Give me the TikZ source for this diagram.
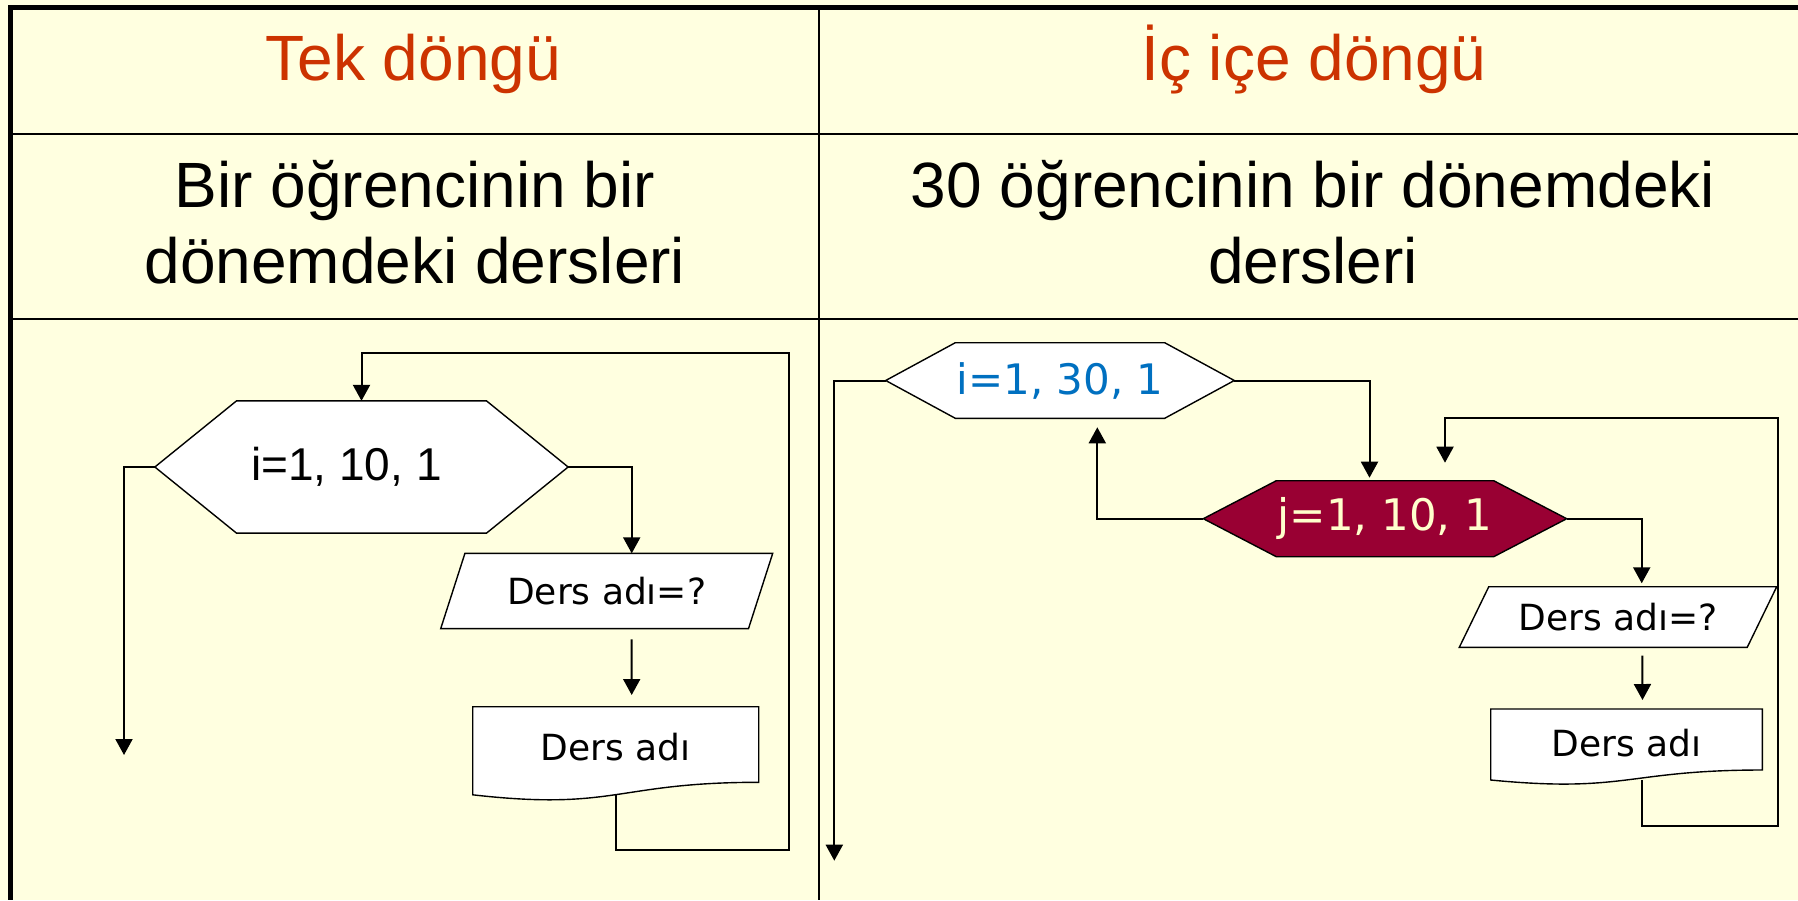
\documentclass[tikz,border=0pt]{standalone}
\usepackage{fontspec}
\setmainfont{DejaVu Sans}
\newfontfamily\arialfont{Liberation Sans}
\usetikzlibrary{shapes.symbols,shapes.geometric,arrows.meta}
\definecolor{paper}{RGB}{255,255,224}
\definecolor{headred}{RGB}{204,51,0}
\definecolor{loopblue}{RGB}{0,112,192}
\definecolor{wine}{RGB}{153,0,51}
\definecolor{cream}{RGB}{255,255,204}

\begin{document}
\begin{tikzpicture}[x=1pt, y=-1pt,
    hexbox/.style={shape=signal, signal to=west and east, draw, fill=white,
      line width=1.4pt, inner sep=0pt, outer sep=0pt},
    inbox/.style={shape=trapezium, trapezium stretches body, draw, fill=white,
      line width=1.4pt, inner sep=0pt, outer sep=0pt,
      font=\fontsize{36}{40}\selectfont},
    docnode/.style={inner sep=0pt, outer sep=0pt, font=\fontsize{36}{40}\selectfont},
    docline/.style={draw, fill=white, line width=1.4pt},
    wire/.style={line width=2pt},
    flow/.style={wire, -{Triangle[length=16pt,width=17pt]}},
    head/.style={anchor=base, font=\arialfont\fontsize{64}{76}\selectfont}]

    \useasboundingbox (0,0) rectangle (1798,900);
    % table
    \fill[paper] (0,0) rectangle (1798,900);
    \draw[wire] (10,134) -- (1798,134) (10,319) -- (1798,319) (819,7.5) -- (819,900);
    \draw[line width=5pt] (1798,7.5) -- (10,7.5) -- (10,900);

    \node[head, text=headred] (tekT) at (413.3,80) {Tek döngü};
    \node[head, text=headred] (iciceT) at (1314,80) {İç içe döngü};
    \node[head] (tekA) at (415,207) {Bir öğrencinin bir};
    \node[head] (tekB) at (415,283) {dönemdeki dersleri};
    \node[head] (iciceA) at (1313,207) {30 öğrencinin bir dönemdeki};
    \node[head] (iciceB) at (1313,283) {dersleri};

    % tek dongu
    \node[hexbox, minimum width=413.3pt, minimum height=132.3pt, signal pointer angle=78,
      font=\arialfont\fontsize{46}{46}\selectfont] (forI) at (361.5,467) {i=1, 10, 1\hspace*{30pt}};
    \node[inbox, trapezium left angle=49, trapezium right angle=131,
      minimum width=332pt, minimum height=75.3pt] (readL) at (606.7,591) {Ders adı=?};
    \path[docline] (472.7,706.7) -- (758.7,706.7) -- (758.7,782.3)
      .. controls (615.7,782.3) and (615.7,811.1) .. (472.7,794.8) -- cycle;
    \node[docnode, minimum width=286pt, minimum height=95.4pt] (writeL) at (615.7,747) {Ders adı};

    \coordinate (loopLa) at (788.7,850);
    \coordinate (loopLb) at (788.7,352.7);
    \coordinate (endL) at (124,755);
    \draw[flow] (forI.east) -| ([xshift=25pt]readL.north);
    \draw[flow, shorten <=10.6pt, shorten >=4.3pt] ([xshift=25pt]readL.south) -- ([xshift=16pt]writeL.north);
    \draw[flow] (writeL.south) |- (loopLa) -- (loopLb) -| (forI.north);
    \draw[flow] (forI.west) -| (endL);

    % ic ice dongu
    \node[hexbox, minimum width=348.6pt, minimum height=75.6pt, signal pointer angle=57,
      text=loopblue, font=\fontsize{42}{42}\selectfont] (forO) at (1060,380.5) {i=1, 30, 1};
    \node[hexbox, fill=wine, minimum width=363.4pt, minimum height=76pt, signal pointer angle=55,
      text=cream, font=\fontsize{43.5}{44}\selectfont] (forJ) at (1385,518.7) {j=1, 10, 1};
    \node[inbox, trapezium left angle=43.4, trapezium right angle=136.6,
      minimum width=317.4pt, minimum height=60.6pt] (readR) at (1618,617) {Ders adı=?};
    \path[docline] (1490.7,709) -- (1762.3,709) -- (1762.3,770)
      .. controls (1626.5,770) and (1626.5,793.2) .. (1490.7,780) -- cycle;
    \node[docnode, minimum width=271.6pt, minimum height=74pt] (writeR) at (1626.5,743) {Ders adı};

    \coordinate (loopRa) at (1777.7,825.7);
    \coordinate (loopRb) at (1777.7,417.7);
    \coordinate (endR) at (834.3,860.7);
    \draw[flow, shorten >=3pt] (forO.east) -| ([xshift=-15.5pt]forJ.north);
    \draw[flow, shorten >=9pt] (forJ.west) -| ([xshift=37.3pt]forO.south);
    \draw[flow, shorten >=3.4pt] (forJ.east) -| ([xshift=23.7pt]readR.north);
    \draw[flow, shorten <=8.4pt, shorten >=6pt] ([xshift=24.3pt]readR.south) -- ([xshift=16pt]writeR.north);
    \draw[flow, shorten >=18pt] ([xshift=15pt]writeR.south) |- (loopRa) -- (loopRb) -| ([xshift=60pt]forJ.north);
    \draw[flow] (forO.west) -| (endR);
\end{tikzpicture}
\end{document}
